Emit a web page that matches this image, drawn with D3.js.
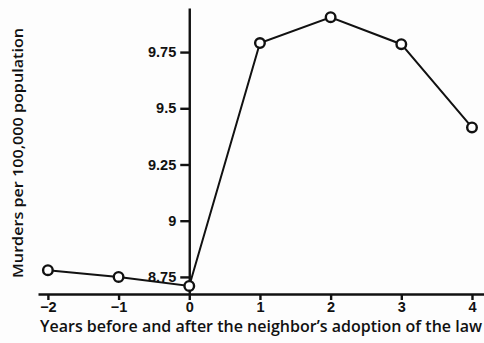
<!DOCTYPE html>
<html lang="en">
<head>
  <meta charset="UTF-8">
  <title>Murders per 100,000 population</title>
  <script src="https://d3js.org/d3.v7.min.js"></script>
  <style>
    body { margin: 0; background: #fdfdfd; }
    svg { display: block; font-family: "Open Sans", sans-serif; }
    .axis path, .axis line { stroke: #111; stroke-width: 2.4; }
    .axis text { font-size: 14.5px; font-weight: 600; fill: #111; }
    .title { font-weight: 600; fill: #111; }
  </style>
</head>
<body>
  <svg id="chart" width="484" height="343"></svg>
  <script>
    // years relative to the neighbour's adoption of the law
    const years = [-2, -1, 0, 1, 2, 3, 4];
    const murders = [8.78, 8.75, 8.71, 9.79, 9.905, 9.785, 9.415];
    const yTicks = [8.75, 9, 9.25, 9.5, 9.75];

    const svg = d3.select("#chart");

    const x = d3.scaleLinear()
      .domain([-2.14, 4.17])
      .range([38, 484]);

    const y = d3.scaleLinear()
      .domain([8.674, 9.946])
      .range([294, 8]);

    const data = years.map((yr, i) => ({ yr: yr, v: murders[i] }));

    const line = d3.line()
      .x(d => x(d.yr))
      .y(d => y(d.v));

    svg.append("path")
      .datum(data)
      .attr("fill", "none")
      .attr("stroke", "#111")
      .attr("stroke-width", 2)
      .attr("d", line);

    svg.append("g")
      .attr("class", "axis")
      .attr("transform", "translate(0,294)")
      .call(d3.axisBottom(x).tickValues(years).tickSize(6).tickSizeOuter(0).tickPadding(2)
        .tickFormat(d3.format("d")));

    svg.append("g")
      .attr("class", "axis")
      .attr("transform", `translate(${x(0)},0)`)
      .call(d3.axisLeft(y).tickValues(yTicks).tickSize(9).tickSizeOuter(0).tickPadding(4)
        .tickFormat(d => String(d)));

    svg.selectAll("circle")
      .data(data)
      .enter()
      .append("circle")
      .attr("cx", d => x(d.yr))
      .attr("cy", d => y(d.v))
      .attr("r", 4.8)
      .attr("fill", "#fff")
      .attr("stroke", "#111")
      .attr("stroke-width", 2.4);

    svg.append("text")
      .attr("class", "title")
      .attr("x", 261)
      .attr("y", 332)
      .attr("text-anchor", "middle")
      .attr("textLength", 442)
      .attr("lengthAdjust", "spacingAndGlyphs")
      .style("font-size", "15.5px")
      .text("Years before and after the neighbor\u2019s adoption of the law");

    svg.append("text")
      .attr("class", "title")
      .attr("transform", "translate(23,153) rotate(-90)")
      .attr("text-anchor", "middle")
      .attr("textLength", 250)
      .attr("lengthAdjust", "spacingAndGlyphs")
      .style("font-size", "14px")
      .text("Murders per 100,000 population");
  </script>
</body>
</html>
